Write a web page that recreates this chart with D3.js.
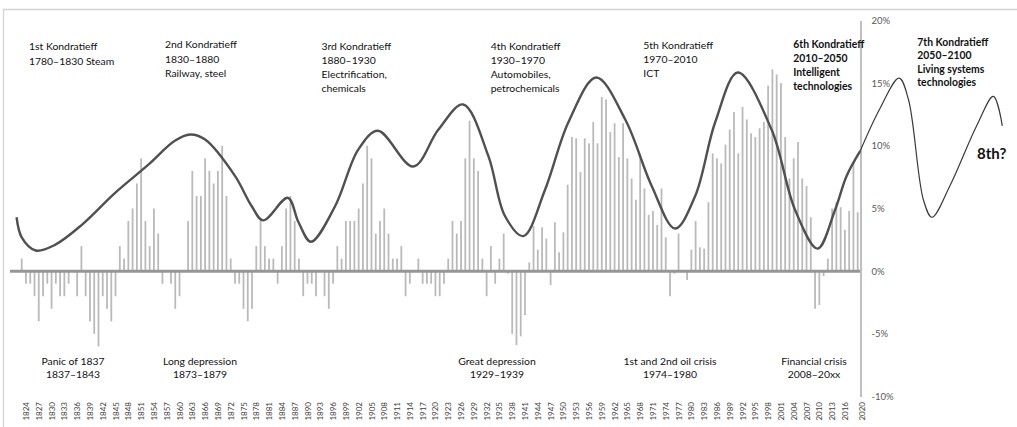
<!DOCTYPE html>
<html>
<head>
<meta charset="utf-8">
<script src="https://cdn.jsdelivr.net/npm/d3@7"></script>
<style>
  body { margin: 0; background: #fff; }
  svg { display: block; font-family: Lato, "Open Sans", sans-serif; }
</style>
</head>
<body>
<div id="chart"></div>
<script>
const width = 1017, height = 427;

// yearly growth in %, 1824 .. 2020
const firstYear = 1824;
const growth = [
  1, -1, -1, -2, -4, -2, -1, -3, -1, -2,
  -2, -1, 0, -2, 2, -2, -4, -5, -6, -2,
  -3, -4, -2, 2, 1, 4, 5, 7, 9, 4,
  2, 5, 3, -1, 0, -1, -3, -2, 0, 4,
  8, 6, 6, 9, 8, 7, 8, 10, 6, 1,
  -1, -1, -3, -4, -3, 2, 4, 2, 1, 1,
  -1, 2, 5, 6, 4, 1, -2, -1, -1, -2,
  0, -2, -3, -1, 2, 1, 4, 4, 4, 5,
  7, 10, 9, 3, 4, 5, 3, 1, 1, 2,
  -2, -1, 0, 1, -1, -1, -1, -2, -2, -1,
  1, 4, 3, 4, 9, 12, 9, 8, 1, -2,
  2, -1, 1, 3, -0.2, -5, -5.9, -5.2, -3.5, 0.7,
  3.6, 1.7, 3.5, 2.6, -1.1, 3.9, 1.5, 3.1, 6.9, 10.7,
  10.6, 7.9, 10.6, 10.2, 11.9, 10.2, 13.9, 13.7, 11.1, 11.8,
  9.1, 11.8, 9.0, 7.4, 5.7, 9.3, 6.6, 4.5, 4.8, 3.7,
  6.6, 2.7, -2.0, -0.2, 3.0, 0, -0.7, 1.7, 4.0, 1.9,
  1.8, 5.5, 9.4, 9.0, 8.6, 10.1, 11.3, 12.7, 9.4, 13.1,
  12.1, 11.0, 10.7, 11.4, 11.9, 14.8, 16.1, 15.7, 15.0, 10.7,
  7.4, 9.0, 10.3, 7.4, 6.8, 4.3, -3.0, -2.7, -0.4, 1.0,
  5.0, 5.5, 5.1, 3.3, 4.8, 8.7, 4.7
];

const tickYears = [
  1824, 1827, 1830, 1833, 1836, 1839, 1842, 1845, 1848, 1851, 1854, 1857, 1860,
  1863, 1866, 1869, 1872, 1875, 1878, 1881, 1884, 1887, 1890, 1893, 1896, 1899,
  1902, 1905, 1908, 1911, 1914, 1917, 1920, 1923, 1926, 1929, 1932, 1935, 1938,
  1941, 1944, 1947, 1950, 1953, 1956, 1959, 1962, 1965, 1968, 1971, 1974, 1977,
  1980, 1983, 1986, 1989, 1992, 1995, 1998, 2001, 2004, 2007, 2010, 2013, 2016, 2020
];
const pctTicks = [-10, -5, 0, 5, 10, 15, 20];

// Kondratieff wave
const waveYears = [1822.8, 1824.0, 1827.3, 1831.8, 1838.1, 1845.9, 1853.7, 1859.9, 1863.5, 1867.0,
  1874.0, 1877.9, 1880.6, 1886.4, 1888.9, 1891.8, 1897.5, 1902.9, 1907.5, 1915.8,
  1921.7, 1927.5, 1933.4, 1937.3, 1941.6, 1946.7, 1952.2, 1958.7, 1965.5, 1971.7,
  1977.2, 1981.9, 1986.6, 1991.9, 1999.8, 2005.3, 2010.6, 2014.7, 2017.4, 2020.6];
const waveValues = [4.3, 2.7, 1.65, 2.1, 3.7, 6.25, 8.5, 10.4, 10.9, 10.5,
  7.6, 5.2, 4.05, 5.85, 3.9, 2.35, 5.2, 9.7, 11.2, 8.35,
  11.3, 13.3, 9.2, 4.4, 2.8, 6.5, 11.9, 15.45, 12.1, 6.8,
  3.4, 6.0, 11.9, 15.85, 11.3, 4.9, 1.8, 4.9, 7.6, 9.6];
const futureYears = [2020.6, 2025.1, 2029.7, 2031.9, 2035.4, 2037.4, 2041.6, 2047.9, 2051.8, 2053.9];
const futureValues = [9.6, 12.9, 15.4, 13.7, 5.7, 4.3, 6.8, 11.6, 13.95, 11.6];

const waveNotes = [
  ["1st Kondratieff", "1780\u20131830 Steam"],
  ["2nd Kondratieff", "1830\u20131880", "Railway, steel"],
  ["3rd Kondratieff", "1880\u20131930", "Electrification,", "chemicals"],
  ["4th Kondratieff", "1930\u20131970", "Automobiles,", "petrochemicals"],
  ["5th Kondratieff", "1970\u20132010", "ICT"],
  ["6th Kondratieff", "2010\u20132050", "Intelligent", "technologies"],
  ["7th Kondratieff", "2050\u20132100", "Living systems", "technologies"]
];
const crisisNotes = [
  ["Panic of 1837", "1837\u20131843"],
  ["Long depression", "1873\u20131879"],
  ["Great depression", "1929\u20131939"],
  ["1st and 2nd oil crisis", "1974\u20131980"],
  ["Financial crisis", "2008\u201320xx"]
];

// layout of the annotations
const waveNotePos = [
  {x: 29, y: 49.5, lh: 15, bold: false},
  {x: 165, y: 48, lh: 14.5, bold: false},
  {x: 321.5, y: 50, lh: 14, bold: false},
  {x: 490.7, y: 50, lh: 14, bold: false},
  {x: 643.3, y: 49.3, lh: 14, bold: false},
  {x: 793.3, y: 47.7, lh: 14, bold: true},
  {x: 917.3, y: 45.7, lh: 13.5, bold: true}
];
const crisisNotePos = [73, 200, 497, 670, 814];

const svg = d3.select("#chart").append("svg")
  .attr("width", width)
  .attr("height", height);

let x = d3.scaleLinear().domain([firstYear, 2020]).range([21.7, 857.7]);
let y = d3.scaleLinear().domain([-10, 20]).range([396.5, 20.5]);

// frame
svg.append("path")
  .attr("d", `M3.5,${height}V9.5H${width}`)
  .attr("fill", "none")
  .attr("stroke", "#d4d4d4")
  .attr("stroke-width", 1.3);

// bars
svg.append("g")
  .selectAll("rect")
  .data(growth)
  .enter().append("rect")
  .attr("x", (d, i) => x(firstYear + i) - 0.9)
  .attr("width", 1.8)
  .attr("y", d => y(Math.max(0, d)))
  .attr("height", d => Math.abs(y(d) - y(0)))
  .attr("fill", "#bababa");

// zero line
svg.append("line")
  .attr("x1", 10).attr("x2", 860)
  .attr("y1", y(0)).attr("y2", y(0))
  .attr("stroke", "#969696")
  .attr("stroke-width", 3);

// right axis
let yAxis = svg.append("g")
  .attr("transform", "translate(860.5,0)")
  .call(d3.axisRight(y).tickValues(pctTicks).tickFormat(d => d + "%").tickSize(0).tickPadding(11));
yAxis.select(".domain").attr("stroke", "#808080").attr("stroke-width", 1);
yAxis.selectAll("text")
  .attr("fill", "#595959")
  .style("font-size", "9.5px")
  .style("font-family", "Lato, sans-serif");

// year labels
let xAxis = svg.append("g")
  .attr("transform", "translate(0,400)")
  .call(d3.axisBottom(x).tickValues(tickYears).tickFormat(d3.format("d")).tickSize(0));
xAxis.select(".domain").remove();
xAxis.selectAll("text")
  .attr("transform", "rotate(-90)")
  .attr("x", -2)
  .attr("y", 4)
  .attr("dy", "0.35em")
  .style("text-anchor", "end")
  .style("font-size", "8px")
  .style("font-family", "Lato, sans-serif")
  .attr("fill", "#404040");

// waves
let wave = d3.line()
  .x(d => x(d[0]))
  .y(d => y(d[1]))
  .curve(d3.curveCatmullRom.alpha(0.5));

svg.append("path")
  .datum(waveYears.map((d, i) => [d, waveValues[i]]))
  .attr("fill", "none")
  .attr("stroke", "#505050")
  .attr("stroke-width", 2.4)
  .attr("d", wave);

svg.append("path")
  .datum(futureYears.map((d, i) => [d, futureValues[i]]))
  .attr("fill", "none")
  .attr("stroke", "#3a3a3a")
  .attr("stroke-width", 1.2)
  .attr("d", wave);

// wave notes
waveNotes.forEach(function(lines, i) {
  let p = waveNotePos[i];
  let t = svg.append("text")
    .attr("x", p.x)
    .attr("y", p.y)
    .attr("fill", "#111")
    .style("font-size", "10.4px")
    .style("font-weight", p.bold ? "bold" : "normal");
  lines.forEach(function(line, j) {
    t.append("tspan").attr("x", p.x).attr("y", p.y + j * p.lh).text(line);
  });
});

svg.append("text")
  .attr("x", 977)
  .attr("y", 159)
  .attr("fill", "#111")
  .style("font-size", "15px")
  .style("font-weight", "bold")
  .text("8th?");

// crisis notes
crisisNotes.forEach(function(lines, i) {
  let t = svg.append("text")
    .attr("fill", "#111")
    .style("font-size", "10.4px")
    .style("text-anchor", "middle");
  lines.forEach(function(line, j) {
    t.append("tspan").attr("x", crisisNotePos[i]).attr("y", 365 + j * 13.3).text(line);
  });
});
</script>
</body>
</html>
